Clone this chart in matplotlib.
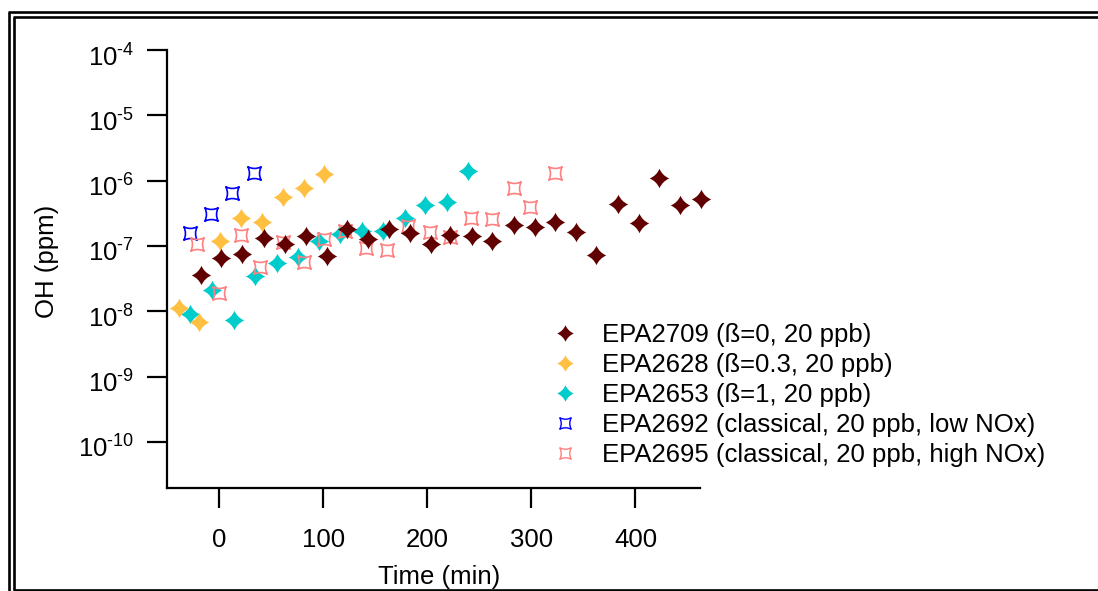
import matplotlib
matplotlib.use("Agg")
import matplotlib.pyplot as plt
from matplotlib.path import Path
from matplotlib.lines import Line2D
import matplotlib.transforms as mtransforms
import numpy as np

plt.rcParams['font.family'] = ['Liberation Sans', 'DejaVu Sans']
plt.rcParams['mathtext.fontset'] = 'custom'
plt.rcParams['mathtext.rm'] = 'Liberation Sans'
plt.rcParams['mathtext.it'] = 'Liberation Sans'
plt.rcParams['mathtext.bf'] = 'Liberation Sans'

# ---- data ----
t_2709 = [-18, 2, 22, 43, 63, 83, 103, 123, 143, 163, 183, 203, 222, 243, 262,
          283, 303, 323, 343, 362, 383, 403, 423, 443, 463]
oh_2709 = [3.6e-8, 6.6e-8, 7.5e-8, 1.34e-7, 1.06e-7, 1.43e-7, 7.1e-8, 1.82e-7,
           1.28e-7, 1.82e-7, 1.56e-7, 1.07e-7, 1.47e-7, 1.43e-7, 1.2e-7, 2.09e-7,
           1.97e-7, 2.35e-7, 1.62e-7, 7.3e-8, 4.4e-7, 2.27e-7, 1.11e-6, 4.3e-7, 5.2e-7]

t_2628 = [-39, -20, 1, 21, 41, 61, 81, 101]
oh_2628 = [1.13e-8, 6.8e-9, 1.2e-7, 2.7e-7, 2.3e-7, 5.7e-7, 7.8e-7, 1.26e-6]

t_2653 = [-28, -7, 14, 34, 55, 76, 96, 116, 137, 157, 178, 198, 219, 239]
oh_2653 = [9.1e-9, 2.1e-8, 7.3e-9, 3.5e-8, 5.4e-8, 6.8e-8, 1.2e-7, 1.5e-7,
           1.7e-7, 1.7e-7, 2.65e-7, 4.3e-7, 4.65e-7, 1.4e-6]

t_2692 = [-28, -8, 12, 33]
oh_2692 = [1.56e-7, 3.05e-7, 6.4e-7, 1.29e-6]

t_2695 = [-21, 0, 21, 39, 61, 81, 101, 121, 141, 161, 181, 202, 222, 242, 262,
          283, 299, 323]
oh_2695 = [1.06e-7, 1.88e-8, 1.47e-7, 4.8e-8, 1.14e-7, 5.7e-8, 1.26e-7, 1.69e-7,
           9.2e-8, 8.7e-8, 2.0e-7, 1.65e-7, 1.35e-7, 2.65e-7, 2.55e-7, 7.6e-7,
           4.0e-7, 1.32e-6]

labels = ["EPA2709 (ß=0, 20 ppb)",
          "EPA2628 (ß=0.3, 20 ppb)",
          "EPA2653 (ß=1, 20 ppb)",
          "EPA2692 (classical, 20 ppb, low NOx)",
          "EPA2695 (classical, 20 ppb, high NOx)"]
colors = ["#600000", "#FFBF40", "#00CCCC", "#0000FF", "#FF8080"]

xticks = [0, 100, 200, 300, 400]
yticks = [1e-10, 1e-9, 1e-8, 1e-7, 1e-6, 1e-5, 1e-4]
ytick_labels = [r"$\mathregular{10^{\text{-}10}}$", r"$\mathregular{10^{\text{-}9}}$",
                r"$\mathregular{10^{\text{-}8}}$", r"$\mathregular{10^{\text{-}7}}$",
                r"$\mathregular{10^{\text{-}6}}$", r"$\mathregular{10^{\text{-}5}}$",
                r"$\mathregular{10^{\text{-}4}}$"]

# ---- markers ----
c = 0.3
star_verts = [(0, 1), (c, c), (1, 0), (c, -c), (0, -1), (-c, -c), (-1, 0), (-c, c), (0, 1), (0, 1)]
star_codes = [Path.MOVETO] + [Path.CURVE3] * 8 + [Path.CLOSEPOLY]
star = Path(star_verts, star_codes)
k = 0.5
sq_verts = [(1, 1), (0, k), (-1, 1), (-k, 0), (-1, -1), (0, -k), (1, -1), (k, 0), (1, 1), (1, 1)]
sq = Path(sq_verts, star_codes)

W, H = 1098, 591
fig = plt.figure(figsize=(W / 100, H / 100), dpi=100)
ax = fig.add_axes([166.7 / W, 1 - 488.3 / H, (700 - 166.7) / W, (488.3 - 50) / H])

fs = 18.5
star_ms = 14
sq_ms = 9.6

ax.plot(t_2653, oh_2653, ls='none', marker=star, ms=star_ms, color=colors[2], mec='none', clip_on=False, zorder=3)
ax.plot(t_2628, oh_2628, ls='none', marker=star, ms=star_ms, color=colors[1], mec='none', clip_on=False, zorder=3)
ax.plot(t_2692, oh_2692, ls='none', marker=sq, ms=sq_ms, mfc='none', mec=colors[3], mew=1.2, clip_on=False, zorder=4)
ax.plot(t_2695, oh_2695, ls='none', marker=sq, ms=sq_ms, mfc='none', mec=colors[4], mew=1.2, clip_on=False, zorder=4)
ax.plot(t_2709, oh_2709, ls='none', marker=star, ms=star_ms, color=colors[0], mec='none', clip_on=False, zorder=5)

ax.set_yscale('log')
ax.set_xlim(-50.6, 462)
ax.set_ylim(10 ** -10.71, 1e-4)
ax.set_xticks(xticks)
ax.set_xticklabels([str(v) for v in xticks])
ax.set_yticks(yticks)
ax.set_yticklabels(ytick_labels)
ax.yaxis.set_minor_locator(matplotlib.ticker.NullLocator())
ax.xaxis.set_minor_locator(matplotlib.ticker.NullLocator())

for s in ['top', 'right']:
    ax.spines[s].set_visible(False)
for s in ['left', 'bottom']:
    ax.spines[s].set_linewidth(1.6)
ax.tick_params(axis='both', direction='out', length=14.5, width=1.6, labelsize=fs)
ax.tick_params(axis='x', pad=14)
ax.tick_params(axis='y', pad=9)

# shift y tick labels slightly down (Igor-like placement)
off = mtransforms.ScaledTranslation(0, -5 / 100, fig.dpi_scale_trans)
for lab in ax.get_yticklabels():
    lab.set_transform(lab.get_transform() + off)

ax.set_xlabel("Time (min)", fontsize=fs)
ax.set_ylabel("OH (ppm)", fontsize=fs)
ax.xaxis.set_label_coords((439 - 166.7) / 533.3, (488.3 - 565) / 438.3)
ax.yaxis.set_label_coords((59 - 166.7) / 533.3, (488.3 - 261) / 438.3)

handles = [
    Line2D([], [], ls='none', marker=star, ms=star_ms * 0.85, color=colors[0], mec='none'),
    Line2D([], [], ls='none', marker=star, ms=star_ms * 0.85, color=colors[1], mec='none'),
    Line2D([], [], ls='none', marker=star, ms=star_ms * 0.85, color=colors[2], mec='none'),
    Line2D([], [], ls='none', marker=sq, ms=sq_ms * 0.85, mfc='none', mec=colors[3], mew=1.0),
    Line2D([], [], ls='none', marker=sq, ms=sq_ms * 0.85, mfc='none', mec=colors[4], mew=1.0),
]
fig.legend(handles, labels, loc='upper left', bbox_to_anchor=(552 / W, 1 - 323 / H),
           frameon=False, fontsize=fs, borderpad=0, borderaxespad=0,
           handlelength=1.0, handletextpad=0.93, labelspacing=0.23)

# double frame around the figure
def fline(x0, y0, x1, y1, lw):
    fig.add_artist(Line2D([x0 / W, x1 / W], [1 - y0 / H, 1 - y1 / H],
                          transform=fig.transFigure, color='black', lw=lw,
                          solid_capstyle='butt'))

fline(8.5, 12, 8.5, 600, 1.9)
fline(7.5, 12, 1100, 12, 1.9)
fline(14, 17.2, 14, 589.5, 1.9)
fline(13, 17.2, 1100, 17.2, 1.9)
fline(13, 589.5, 1100, 589.5, 1.9)

fig.savefig("out.png", dpi=100, facecolor='white')
